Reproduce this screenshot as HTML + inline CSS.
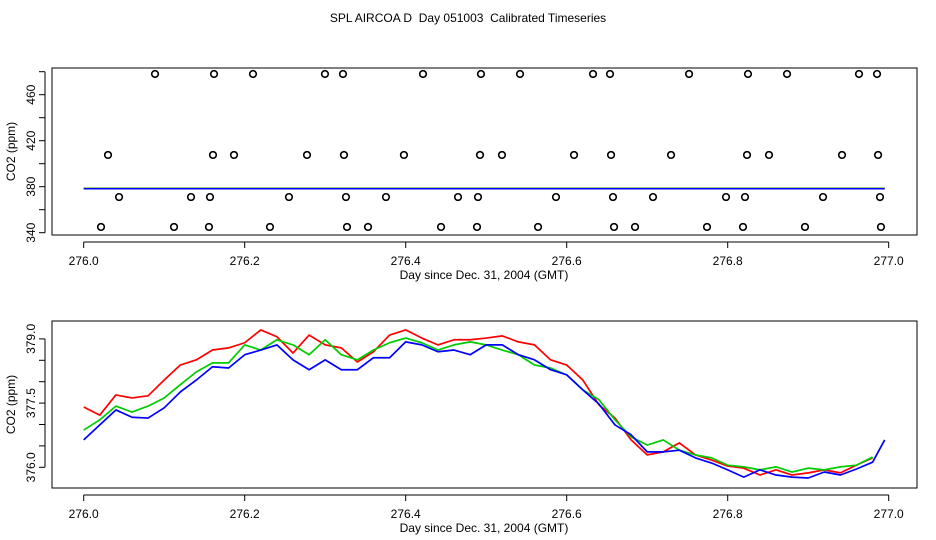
<!DOCTYPE html>
<html><head><meta charset="utf-8"><style>
body{margin:0;background:#fff}
svg{display:block;font-family:"Liberation Sans",Arial,sans-serif}
</style></head><body>
<svg id="c" width="936" height="540" viewBox="0 0 936 540">
<text x="468" y="22" text-anchor="middle" font-size="12" style="white-space:pre">SPL AIRCOA D  Day 051003  Calibrated Timeseries</text>
</svg>
<script>
const days=[];for(let i=0;i<=49;i++)days.push(+(276+i*0.02).toFixed(2));
const redVals=[377.41,377.22,377.69,377.62,377.67,378.04,378.39,378.51,378.74,378.79,378.91,379.21,379.05,378.67,379.09,378.86,378.79,378.46,378.70,379.09,379.21,379.02,378.86,378.98,378.98,379.02,379.07,378.93,378.86,378.51,378.39,378.04,377.46,377.15,376.64,376.29,376.36,376.57,376.29,376.17,376.03,375.98,375.82,375.94,375.82,375.87,375.94,375.87,376.05,376.22];
const greenVals=[376.87,377.11,377.43,377.29,377.43,377.62,377.93,378.23,378.44,378.44,378.86,378.74,378.98,378.86,378.63,378.98,378.63,378.51,378.74,378.91,379.02,378.91,378.74,378.86,378.93,378.86,378.74,378.63,378.39,378.32,378.16,377.81,377.58,377.11,376.71,376.52,376.64,376.40,376.29,376.22,376.05,376.01,375.94,376.01,375.89,375.98,375.94,376.01,376.05,376.24];
const blueVals=[376.64,376.99,377.34,377.17,377.15,377.39,377.76,378.04,378.35,378.32,378.63,378.74,378.86,378.51,378.28,378.51,378.28,378.28,378.56,378.56,378.93,378.86,378.70,378.74,378.63,378.86,378.86,378.63,378.51,378.28,378.16,377.81,377.48,376.99,376.76,376.36,376.36,376.40,376.22,376.10,375.94,375.77,375.94,375.82,375.77,375.75,375.89,375.82,375.96,376.12];
const blueEnd=[276.995,376.64];
const topLevels=[478,407.6,371,345];
const topDays=[
[276.0886,276.1619,276.2103,276.2997,276.3221,276.4215,276.4935,276.542,276.6327,276.6538,276.752,276.8252,276.8737,276.9631,276.9855],
[276.0302,276.1606,276.1867,276.2774,276.3233,276.3978,276.4923,276.5196,276.6091,276.6551,276.7296,276.824,276.8513,276.942,276.9868],
[276.0439,276.1333,276.1569,276.255,276.3258,276.3755,276.465,276.4898,276.5867,276.6575,276.7072,276.7979,276.8215,276.9184,276.9892],
[276.0215,276.1122,276.1556,276.2314,276.3271,276.3532,276.4439,276.4886,276.5644,276.6588,276.6849,276.7743,276.819,276.896,276.9904]];
const topLine=378.2;
const xTicks=["276.0","276.2","276.4","276.6","276.8","277.0"];
const topYTicks=[340,360,380,400,420,440,460,480];
const topYLabels=["340","380","420","460"];
const botYTicks=[376.0,376.5,377.0,377.5,378.0,378.5,379.0];
const botYLabels=["376.0","377.5","379.0"];

const svg=document.getElementById('c');const NS='http://www.w3.org/2000/svg';
function mk(t,a,p){const e=document.createElementNS(NS,t);for(const k in a)e.setAttribute(k,a[k]);(p||svg).appendChild(e);return e;}
const X=d=>83.7+(d-276)*805;
const topY=v=>232.7-(v-340)*1.15;
const botY=v=>467.3-(v-376)*42.8;

function panel(top,bot,yfn,yTicks,yLabels,name){
  const g=mk('g',{});
  
  
  const r=mk('rect',{x:52,y:top,width:865,height:bot-top,fill:'none',stroke:'#000','stroke-width':1},g);
  
  
  const ax=mk('g',{},g);
  
  
  mk('line',{x1:X(276),x2:X(277),y1:bot+7,y2:bot+7,stroke:'#000'},ax);
  xTicks.forEach(t=>{const x=X(+t);mk('line',{x1:x,x2:x,y1:bot+7,y2:bot+13,stroke:'#000'},ax);
    const tx=mk('text',{x:x,y:bot+30,'text-anchor':'middle','font-size':12},ax);tx.textContent=t;
    
    });
  const xl=mk('text',{x:484,y:bot+44,'text-anchor':'middle','font-size':12},g);xl.textContent='Day since Dec. 31, 2004 (GMT)';
  
  
  const ay=mk('g',{},g);
  
  
  const y0=yfn(yTicks[0]),y1=yfn(yTicks[yTicks.length-1]);
  mk('line',{x1:45,x2:45,y1:y0,y2:y1,stroke:'#000'},ay);
  yTicks.forEach(t=>{const y=yfn(t);mk('line',{x1:39,x2:45,y1:y,y2:y,stroke:'#000'},ay);});
  yLabels.forEach(t=>{const y=yfn(+t);const tx=mk('text',{x:0,y:0,'text-anchor':'middle','font-size':12,transform:`translate(35,${y}) rotate(-90)`},ay);tx.textContent=t;
    
    });
  const yl=mk('text',{x:0,y:0,'text-anchor':'middle','font-size':12,transform:`translate(15,${(top+bot)/2}) rotate(-90)`},g);yl.textContent='CO2 (ppm)';
  
  
  return g;
}
const g1=panel(68,235,topY,topYTicks,topYLabels,'top-panel');
const g2=panel(321,488,botY,botYTicks,botYLabels,'bottom-panel');

[['red','#f00',0.5],['green','#0c0',0.3],['blue','#00f',0]].forEach(([n,c,o])=>{
  const l=mk('line',{x1:X(276),x2:X(276.995),y1:topY(topLine+o),y2:topY(topLine+o),stroke:c,'stroke-width':1.5},g1);
  
  
});
topDays.forEach((row,i)=>row.forEach(d=>{
  const c=mk('circle',{cx:X(d),cy:topY(topLevels[i]),r:3.3,fill:'none',stroke:'#000','stroke-width':1.6},g1);
  
  
}));
function series(vals,col,name,extra){
  let pts=days.map((d,i)=>X(d)+','+botY(vals[i]));
  if(extra)pts.push(X(extra[0])+','+botY(extra[1]));
  const p=mk('polyline',{points:pts.join(' '),fill:'none',stroke:col,'stroke-width':1.7,'stroke-linejoin':'round'},g2);
  
  
}
series(redVals,'#f00','red-series');
series(greenVals,'#0c0','green-series');
series(blueVals,'#00f','blue-series',blueEnd);
</script>
</body></html>
